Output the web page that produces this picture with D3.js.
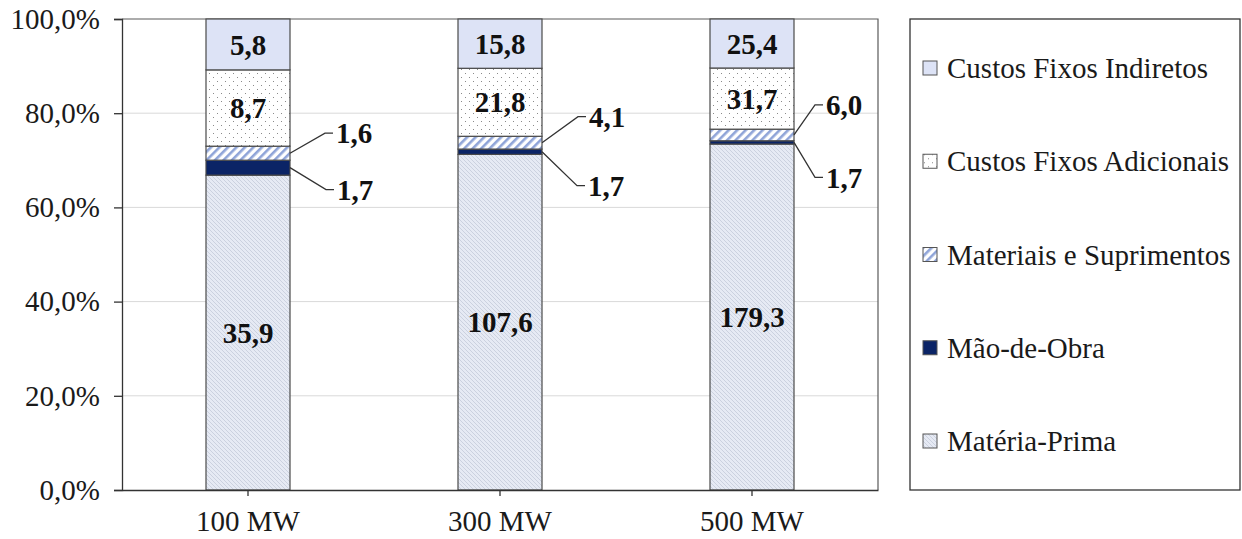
<!DOCTYPE html>
<html>
<head>
<meta charset="utf-8">
<script src="https://cdn.jsdelivr.net/npm/d3@7"></script>
<style>
  html, body { margin: 0; padding: 0; background: #fff; }
  svg { display: block; }
  text { font-family: "Liberation Serif", "Times New Roman", serif; }
</style>
</head>
<body>
<svg id="chart" width="1242" height="539"></svg>
<script>
// Cost composition by plant capacity (values in the unit of the source table)
const categories = ["100 MW", "300 MW", "500 MW"];
const seriesNames = ["Matéria-Prima", "Mão-de-Obra", "Materiais e Suprimentos", "Custos Fixos Adicionais", "Custos Fixos Indiretos"];
const materiaPrima = [35.9, 107.6, 179.3];
const maoDeObra = [1.7, 1.7, 1.7];
const materiaisSuprimentos = [1.6, 4.1, 6.0];
const custosFixosAdicionais = [8.7, 21.8, 31.7];
const custosFixosIndiretos = [5.8, 15.8, 25.4];
const yTicks = [0, 0.2, 0.4, 0.6, 0.8, 1.0];

// Callout placement for the thin segments (pixel offsets from the bar edge / segment middle)
const calloutOffsets = [
  { 1: [36, 22], 2: [35, -20] },
  { 1: [35, 34], 2: [36, -26] },
  { 1: [21, 35], 2: [21, -30] }
];

const seriesValues = [materiaPrima, maoDeObra, materiaisSuprimentos, custosFixosAdicionais, custosFixosIndiretos];
const keys = seriesNames;
const rows = categories.map((c, i) => {
  const r = { category: c };
  keys.forEach((k, j) => { r[k] = seriesValues[j][i]; });
  return r;
});

const ptBR = d3.formatLocale({ decimal: ",", thousands: ".", grouping: [3], currency: ["R$", ""] });
const fmtVal = ptBR.format(".1f");
const fmtPct = v => ptBR.format(".1f")(v * 100) + "%";

const FONT = 29;
const svg = d3.select("#chart");
const margin = { left: 122, right: 878, top: 19, bottom: 490 };

const x = d3.scaleBand().domain(categories).range([margin.left, margin.right])
  .paddingInner(2 / 3).paddingOuter(1 / 3);
const y = d3.scaleLinear().domain([0, 1]).range([margin.bottom, margin.top]);

// Fill patterns
const defs = svg.append("defs");
const pMP = defs.append("pattern").attr("id", "pMP").attr("patternUnits", "userSpaceOnUse")
  .attr("width", 4).attr("height", 4);
pMP.append("rect").attr("width", 4).attr("height", 4).attr("fill", "#e6eaf4");
pMP.append("path").attr("d", "M0,0 L4,4 M-1,3 L1,5 M3,-1 L5,1")
  .attr("stroke", "#b9c0d0").attr("stroke-width", 0.6);

const pMS = defs.append("pattern").attr("id", "pMS").attr("patternUnits", "userSpaceOnUse")
  .attr("width", 6).attr("height", 6).attr("patternTransform", "rotate(45)");
pMS.append("rect").attr("width", 6).attr("height", 6).attr("fill", "#ffffff");
pMS.append("rect").attr("width", 2.6).attr("height", 6).attr("fill", "#8fa4d8");

const pCFA = defs.append("pattern").attr("id", "pCFA").attr("patternUnits", "userSpaceOnUse")
  .attr("width", 8).attr("height", 8);
pCFA.append("rect").attr("width", 8).attr("height", 8).attr("fill", "#ffffff");
pCFA.append("rect").attr("x", 1).attr("y", 1).attr("width", 1).attr("height", 1).attr("fill", "#8a8a8a");
pCFA.append("rect").attr("x", 5).attr("y", 5).attr("width", 1).attr("height", 1).attr("fill", "#8a8a8a");

const fills = {
  "Matéria-Prima": "url(#pMP)",
  "Mão-de-Obra": "#0b2466",
  "Materiais e Suprimentos": "url(#pMS)",
  "Custos Fixos Adicionais": "url(#pCFA)",
  "Custos Fixos Indiretos": "#dde3f6"
};

// Gridlines
svg.append("g").selectAll("line").data(yTicks.filter(t => t > 0 && t < 1)).join("line")
  .attr("x1", margin.left).attr("x2", margin.right)
  .attr("y1", d => y(d)).attr("y2", d => y(d))
  .attr("stroke", "#d9d9d9").attr("stroke-width", 1);

// Plot-area border (top and right)
svg.append("path")
  .attr("d", `M${margin.left},${y(1)} H${margin.right} V${y(0)}`)
  .attr("fill", "none").attr("stroke", "#5a5a5a").attr("stroke-width", 1.2);

// Stacked bars normalised to 100 %
const stack = d3.stack().keys(keys).offset(d3.stackOffsetExpand);
const layers = stack(rows);

const gBars = svg.append("g");
layers.forEach(layer => {
  gBars.append("g").selectAll("rect").data(layer).join("rect")
    .attr("x", d => x(d.data.category))
    .attr("width", x.bandwidth())
    .attr("y", d => y(d[1]))
    .attr("height", d => y(d[0]) - y(d[1]))
    .attr("fill", fills[layer.key])
    .attr("stroke", "#4a4a4a").attr("stroke-width", 1.2);
});

// Value labels inside the large segments
[0, 3, 4].forEach(li => {
  svg.append("g").selectAll("text").data(layers[li]).join("text")
    .attr("x", d => x(d.data.category) + x.bandwidth() / 2)
    .attr("y", d => (y(d[0]) + y(d[1])) / 2)
    .attr("dy", "0.35em")
    .attr("text-anchor", "middle")
    .attr("font-size", FONT).attr("font-weight", "bold").attr("fill", "#111")
    .text((d, i) => fmtVal(seriesValues[li][i]));
});

// Callouts for the thin segments
[1, 2].forEach(li => {
  layers[li].forEach((d, i) => {
    const x0 = x(d.data.category) + x.bandwidth();
    const y0 = (y(d[0]) + y(d[1])) / 2;
    const [dx, dy] = calloutOffsets[i][li];
    const x1 = x0 + dx, y1 = y0 + dy;
    svg.append("path")
      .attr("d", `M${x0},${y0} L${x1},${y1} H${x1 + 8}`)
      .attr("fill", "none").attr("stroke", "#333").attr("stroke-width", 1.3);
    svg.append("text")
      .attr("x", x1 + 11).attr("y", y1).attr("dy", "0.35em")
      .attr("font-size", FONT).attr("font-weight", "bold").attr("fill", "#111")
      .text(fmtVal(seriesValues[li][i]));
  });
});

// Axes
const yAxis = svg.append("g").attr("transform", `translate(${margin.left},0)`)
  .call(d3.axisLeft(y).tickValues(yTicks).tickFormat(fmtPct).tickSize(8).tickPadding(14));
yAxis.select(".domain").attr("stroke", "#333").attr("stroke-width", 1.3);
yAxis.selectAll(".tick line").attr("stroke", "#333").attr("stroke-width", 1.3);
yAxis.selectAll("text").attr("font-size", FONT).attr("fill", "#1a1a1a")
  .attr("font-family", "'Liberation Serif', 'Times New Roman', serif");

const xAxis = svg.append("g").attr("transform", `translate(0,${margin.bottom})`)
  .call(d3.axisBottom(x).tickSize(6).tickSizeOuter(0).tickPadding(14));
xAxis.select(".domain").attr("stroke", "#333").attr("stroke-width", 1.3);
xAxis.selectAll(".tick line").attr("stroke", "#333").attr("stroke-width", 1.3);
xAxis.selectAll("text").attr("font-size", FONT).attr("fill", "#1a1a1a")
  .attr("font-family", "'Liberation Serif', 'Times New Roman', serif");

// Legend
const legend = svg.append("g");
legend.append("rect").attr("x", 910).attr("y", 19).attr("width", 330).attr("height", 471)
  .attr("fill", "#fff").attr("stroke", "#333").attr("stroke-width", 1.3);
const legendItems = seriesNames.slice().reverse();
const ly = d3.scalePoint().domain(legendItems).range([68, 441]);
const item = legend.selectAll("g.item").data(legendItems).join("g").attr("class", "item")
  .attr("transform", d => `translate(923,${ly(d)})`);
item.append("rect").attr("x", 0).attr("y", -7).attr("width", 14).attr("height", 14)
  .attr("fill", d => fills[d]).attr("stroke", "#555").attr("stroke-width", 1);
item.append("text").attr("x", 24).attr("y", 0).attr("dy", "0.35em")
  .attr("font-size", FONT).attr("fill", "#1a1a1a").text(d => d);
</script>
</body>
</html>
